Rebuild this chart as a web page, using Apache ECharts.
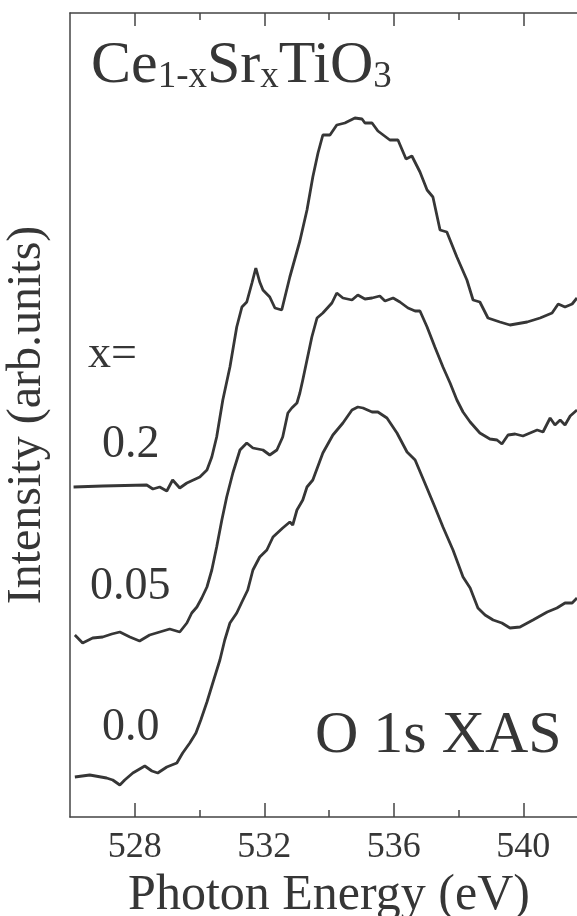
<!DOCTYPE html>
<html>
<head>
<meta charset="utf-8">
<script src="https://cdn.jsdelivr.net/npm/echarts@6/dist/echarts.min.js"></script>
<style>html,body{margin:0;padding:0;background:#fff}#chart{width:577px;height:916px}</style>
</head>
<body>
<div id="chart"></div>
<script>
// Photon energy (eV) and intensity (arb. units)
var energy02 = [526.11,527.01,528.37,528.56,528.77,528.99,529.17,529.39,529.61,530.01,530.23,530.38,530.53,530.72,530.94,531.15,531.31,531.46,531.62,531.74,531.86,531.96,532.17,532.33,532.54,532.79,533.10,533.32,533.50,533.66,533.81,534.03,534.24,534.49,534.80,535.02,535.11,535.33,535.51,535.88,536.13,536.38,536.56,536.81,537.03,537.21,537.43,537.64,537.95,538.26,538.45,538.66,538.91,539.28,539.59,540.12,540.52,540.89,541.08,541.29,541.51,541.66];
var intensity02 = [330,331,332,328,330,326,337,329,334,340,347,360,380,417,450,490,510,515,534,549,535,527,520,509,507,540,576,607,640,664,682,682,692,694,699,698,694,694,686,677,677,658,661,645,627,620,587,585,560,537,517,515,499,495,492,495,499,504,513,510,513,519];

var energy005 = [526.15,526.39,526.70,527.01,527.29,527.54,527.85,528.15,528.46,528.77,529.08,529.39,529.61,529.76,529.92,530.07,530.23,530.38,530.53,530.69,530.84,531.03,531.25,531.46,531.65,531.96,532.17,532.39,532.57,532.73,532.85,533.01,533.10,533.19,533.32,533.47,533.63,533.81,534.09,534.24,534.43,534.71,534.89,535.11,535.33,535.57,535.73,535.98,536.19,536.44,536.66,536.81,537.03,537.27,537.52,537.74,537.95,538.14,538.36,538.66,538.97,539.19,539.34,539.53,539.75,539.99,540.21,540.43,540.61,540.83,540.98,541.14,541.29,541.45,541.66];
var intensity005 = [182,174,179,180,183,185,180,176,182,185,188,185,194,204,210,219,230,247,270,297,320,344,367,374,369,367,362,367,380,404,409,414,424,437,457,480,499,504,514,524,519,517,522,518,519,521,516,519,515,509,506,506,490,470,450,434,417,405,395,384,378,377,373,382,383,381,384,387,385,399,392,397,392,401,407];

var energy00 = [526.15,526.61,527.13,527.32,527.54,527.69,527.94,528.31,528.53,528.71,528.99,529.30,529.48,529.70,529.89,530.04,530.23,530.41,530.63,530.78,530.94,531.15,531.34,531.49,531.65,531.86,532.08,532.27,532.57,532.79,532.88,533.01,533.19,533.32,533.50,533.81,534.12,534.43,534.71,534.89,535.05,535.33,535.51,535.79,536.10,536.41,536.66,536.96,537.27,537.52,537.83,538.14,538.36,538.60,538.82,539.07,539.34,539.59,539.90,540.30,540.74,541.04,541.29,541.51,541.66];
var intensity00 = [40,42,39,37,32,37,44,51,46,44,50,54,64,74,84,97,115,134,157,177,194,204,217,227,247,260,267,280,289,295,292,307,317,330,337,364,382,394,407,410,409,405,405,399,384,365,357,334,310,290,267,240,229,209,202,197,194,189,190,197,205,209,214,214,219];

var majorTicks = [528, 532, 536, 540];
var minorTicks = [530, 534, 538];
var seriesLabels = ['0.2', '0.05', '0.0'];

function zip(xs, ys) { return xs.map(function (x, i) { return [x, ys[i]]; }); }

var FONT = 'Liberation Serif';
var INK = '#363636';
var chart = echarts.init(document.getElementById('chart'), null, {renderer: 'canvas'});

function lineSeries(name, xs, ys) {
  return {
    name: name, type: 'line', data: zip(xs, ys), showSymbol: false, symbol: 'none',
    lineStyle: {color: INK, width: 2.8}, xAxisIndex: 0, yAxisIndex: 0, animation: false
  };
}

var axisBase = {type: 'value', min: 526, max: 542, gridIndex: 0, splitLine: {show: false}};

chart.setOption({
  animation: false,
  backgroundColor: '#fff',
  textStyle: {fontFamily: FONT},
  grid: {left: 70, right: -11, top: 13, bottom: 99, containLabel: false, outerBoundsMode: 'none'},
  xAxis: [
    Object.assign({}, axisBase, {
      position: 'bottom',
      name: 'Photon Energy (eV)', nameLocation: 'middle', nameGap: 50,
      nameTextStyle: {fontFamily: FONT, fontSize: 50, color: INK},
      axisLine: {show: true, lineStyle: {color: '#444', width: 1.5}},
      axisTick: {show: true, inside: true, length: 14, customValues: majorTicks, lineStyle: {color: '#444', width: 1.5}},
      axisLabel: {show: true, customValues: majorTicks, margin: 13, fontFamily: FONT, fontSize: 36, color: INK}
    }),
    Object.assign({}, axisBase, {
      position: 'bottom',
      axisLine: {show: false},
      axisTick: {show: true, inside: true, length: 7, customValues: minorTicks, lineStyle: {color: '#444', width: 1.5}},
      axisLabel: {show: false}
    }),
    Object.assign({}, axisBase, {
      position: 'top',
      axisLine: {show: true, lineStyle: {color: '#444', width: 1.5}},
      axisTick: {show: true, inside: true, length: 13, customValues: majorTicks, lineStyle: {color: '#444', width: 1.5}},
      axisLabel: {show: false}
    }),
    Object.assign({}, axisBase, {
      position: 'top',
      axisLine: {show: false},
      axisTick: {show: true, inside: true, length: 7, customValues: minorTicks, lineStyle: {color: '#444', width: 1.5}},
      axisLabel: {show: false}
    })
  ],
  yAxis: [{
    type: 'value', min: 0, max: 804, position: 'left',
    name: 'Intensity (arb.units)', nameLocation: 'middle', nameGap: 19,
    nameTextStyle: {fontFamily: FONT, fontSize: 48, color: INK},
    axisLine: {show: true, lineStyle: {color: '#444', width: 1.5}},
    axisTick: {show: false}, axisLabel: {show: false}, splitLine: {show: false}
  }],
  series: [
    lineSeries('x=0.2', energy02, intensity02),
    lineSeries('x=0.05', energy005, intensity005),
    lineSeries('x=0.0', energy00, intensity00)
  ],
  graphic: [
    {type: 'text', left: 91, top: 36, style: {
      text: '{m|Ce}{s|1-x}{m|Sr}{s|x}{m|TiO}{s|3}',
      fill: INK,
      rich: {
        m: {fontFamily: FONT, fontSize: 60, lineHeight: 60, verticalAlign: 'bottom', fill: INK},
        s: {fontFamily: FONT, fontSize: 37, lineHeight: 44, verticalAlign: 'bottom', fill: INK}
      }
    }},
    {type: 'text', style: {text: 'x=', x: 88, y: 355, font: '46px ' + FONT, fill: INK, textAlign: 'left', textVerticalAlign: 'middle'}},
    {type: 'text', style: {text: seriesLabels[0], x: 102, y: 445, font: '46px ' + FONT, fill: INK, textAlign: 'left', textVerticalAlign: 'middle'}},
    {type: 'text', style: {text: seriesLabels[1], x: 90, y: 587, font: '46px ' + FONT, fill: INK, textAlign: 'left', textVerticalAlign: 'middle'}},
    {type: 'text', style: {text: seriesLabels[2], x: 102, y: 728, font: '46px ' + FONT, fill: INK, textAlign: 'left', textVerticalAlign: 'middle'}},
    {type: 'text', style: {text: 'O 1s XAS', x: 315, y: 736, font: '60px ' + FONT, fill: INK, textAlign: 'left', textVerticalAlign: 'middle'}}
  ]
});
</script>
</body>
</html>
